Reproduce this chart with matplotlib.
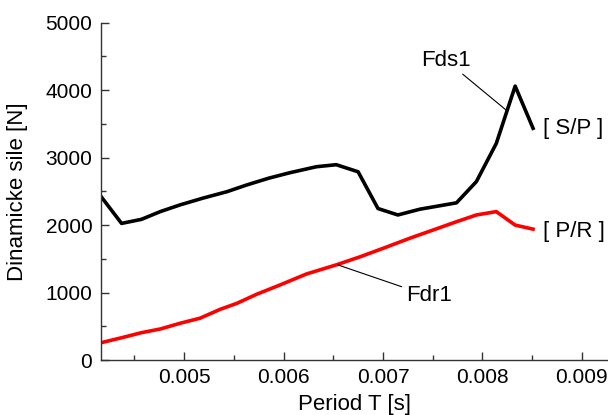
import matplotlib
matplotlib.use('Agg')
import matplotlib.pyplot as plt
from matplotlib.ticker import MultipleLocator, AutoMinorLocator, FormatStrFormatter

plt.rcParams['font.family'] = ['Liberation Sans', 'DejaVu Sans']
plt.rcParams['font.size'] = 16

# Fds1 [ S/P ]
T_ds = [0.00416, 0.00437, 0.00457, 0.00476, 0.00496, 0.00519, 0.00543, 0.00563,
        0.00585, 0.00606, 0.00633, 0.00653, 0.00675, 0.00695, 0.00715, 0.00737,
        0.00774, 0.00794, 0.00814, 0.00833, 0.00851]
F_ds = [2430, 2025, 2085, 2200, 2300, 2400, 2495, 2595,
        2695, 2775, 2865, 2895, 2790, 2245, 2150, 2235,
        2330, 2645, 3210, 4060, 3435]

# Fdr1 [ P/R ]
T_dr = [0.00416, 0.00437, 0.00457, 0.00476, 0.00496, 0.00516, 0.00536, 0.00553,
        0.00573, 0.00596, 0.00623, 0.00653, 0.00677, 0.00700, 0.00727, 0.00774,
        0.00794, 0.00814, 0.00833, 0.00851]
F_dr = [255, 330, 405, 460, 545, 620, 750, 840,
        975, 1110, 1275, 1410, 1530, 1655, 1805, 2050,
        2150, 2200, 2000, 1940]

fig = plt.figure(figsize=(6.08, 4.15), dpi=100)
ax = fig.add_axes([0.1656, 0.1325, 0.8344, 0.8128])

ax.plot(T_ds, F_ds, color='black', lw=2.6)
ax.plot(T_dr, F_dr, color='#ff0000', lw=2.6)

ax.set_xlim(0.00416, 0.009264)
ax.set_ylim(0, 5000)

ax.xaxis.set_major_locator(MultipleLocator(0.001))
ax.xaxis.set_minor_locator(MultipleLocator(0.0005))
ax.xaxis.set_major_formatter(FormatStrFormatter('%.3f'))
ax.yaxis.set_major_locator(MultipleLocator(1000))
ax.yaxis.set_minor_locator(AutoMinorLocator(2))

ax.tick_params(which='both', direction='in', width=1, labelsize=15, pad=6, colors='#333333', labelcolor='black')
ax.tick_params(which='major', length=6)
ax.tick_params(which='minor', length=3.5)

for s in ['top', 'right']:
    ax.spines[s].set_visible(False)
for s in ['left', 'bottom']:
    ax.spines[s].set_linewidth(1)
    ax.spines[s].set_color('#333333')

ax.set_xlabel('Period T [s]')
ax.set_ylabel('Dinamicke sile [N]')
ax.xaxis.set_label_coords(0.5, -0.100)
ax.yaxis.set_label_coords(-0.143, 0.5)

ax.annotate('Fds1', xy=(0.008238, 3706), xytext=(0.00763, 4447),
            ha='center', va='center',
            arrowprops=dict(arrowstyle='-', lw=0.8, color='black', shrinkA=1, shrinkB=0))
ax.annotate('Fdr1', xy=(0.00655, 1408), xytext=(0.00723, 949),
            ha='left', va='center',
            arrowprops=dict(arrowstyle='-', lw=0.8, color='black', shrinkA=1, shrinkB=0))

ax.text(0.008607, 3435, '[ S/P ]', ha='left', va='center')
ax.text(0.008607, 1902, '[ P/R ]', ha='left', va='center')

fig.savefig('out.png', dpi=100)
